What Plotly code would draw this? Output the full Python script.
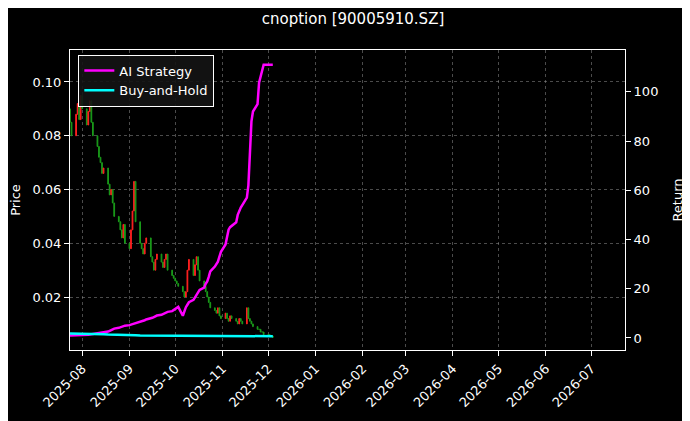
import pandas as pd
import plotly.graph_objects as go

dates = pd.bdate_range("2025-07-24", "2025-12-10")

closes = [0.085, 0.080,
 0.088,0.092,0.086,0.095,0.090,0.084,0.089,0.093,0.085,0.080,0.076,0.072,0.070,0.066,0.068,0.062,0.058,0.060,0.055,0.050,0.048,
 0.045,0.042,0.047,0.040,0.038,0.045,0.052,0.063,0.048,0.040,0.038,0.036,0.040,0.042,0.035,0.033,0.030,0.034,0.036,0.033,0.031,0.034,
 0.036,0.030,0.028,0.027,0.026,0.025,0.024,0.022,0.020,0.022,0.030,0.034,0.028,0.032,0.035,0.030,0.026,0.024,0.022,0.020,0.018,0.016,0.015,
 0.014,0.016,0.013,0.012,0.014,0.012,0.011,0.013,0.012,0.011,0.010,0.012,0.011,0.010,0.016,0.012,0.011,0.010,0.009,0.008,
 0.008,0.007,0.007,0.006,0.006,0.0055,0.0055,0.005]
first_open = 0.090

ai_strategy = [1,1,
 1,1,1.1,1.1,1.2,1.2,1.3,1.4,1.5,1.6,1.7,1.9,2.0,2.2,2.4,2.6,2.9,3.2,3.5,3.8,4.1,
 4.4,4.6,4.8,5.0,5.2,5.4,5.6,5.8,6.0,6.3,6.6,6.9,7.2,7.5,7.8,8.2,8.5,8.8,9.1,9.4,9.7,10.0,
 10.3,10.6,10.9,11.3,11.7,12.1,12.6,9.0,11,12.5,13.5,14.5,15.5,16.7,17.5,18.5,19.5,20.5,22,23,24.8,27,29,
 30,31,33,35,38,41,44,45,45.5,47,50,52,53,54,57,62,75,88,92,95,
 103.7,106,109,111,111,111,111,111]

buy_hold = [1.8,1.8,
 1.8,1.8,1.8,1.8,1.8,1.8,1.8,1.7,1.7,1.7,1.6,1.6,1.5,1.5,1.5,1.4,1.4,1.3,1.3,1.2,1.2,
 1.2,1.1,1.1,1.1,1.1,1.1,1.1,1.2,1.1,1.0,1.0,1.0,1.0,1.0,1.0,0.9,0.9,0.9,0.9,0.9,0.9,0.9,
 0.9,0.9,0.8,0.8,0.8,0.8,0.8,0.8,0.8,0.8,0.9,0.9,0.9,0.9,1.0,0.9,0.9,0.8,0.8,0.8,0.8,0.8,0.8,
 0.8,0.8,0.7,0.7,0.7,0.7,0.7,0.7,0.7,0.7,0.7,0.7,0.7,0.7,0.7,0.7,0.7,0.7,0.7,0.7,
 0.7,0.7,0.7,0.7,0.7,0.7,0.7,0.7]

opens = [first_open] + closes[:-1]
highs = [max(o, c) for o, c in zip(opens, closes)]
lows = [min(o, c) for o, c in zip(opens, closes)]

fig = go.Figure()
fig.add_trace(go.Candlestick(x=dates, open=opens, high=highs, low=lows, close=closes,
    increasing=dict(line=dict(color="#ff2020", width=1), fillcolor="#ff2020"),
    decreasing=dict(line=dict(color="#1a9a1a", width=1), fillcolor="#1a9a1a"),
    whiskerwidth=0, showlegend=False, name="Price"))
fig.add_trace(go.Scatter(x=dates, y=ai_strategy, mode="lines", name="AI Strategy",
    line=dict(color="#ff00ff", width=2.5), yaxis="y2"))
fig.add_trace(go.Scatter(x=dates, y=buy_hold, mode="lines", name="Buy-and-Hold",
    line=dict(color="#00ffff", width=2.5), yaxis="y2"))

grid = dict(showgrid=True, gridcolor="rgba(150,150,150,0.5)", griddash="dot", gridwidth=0.6, zeroline=False)
fig.update_layout(
    width=690, height=421, paper_bgcolor="black", plot_bgcolor="black",
    font=dict(family="DejaVu Sans", color="white", size=13),
    title=dict(text="cnoption [90005910.SZ]", x=0.5, xanchor="center", y=0.975, yanchor="middle", font=dict(size=15)),
    margin=dict(l=62, r=73, t=42, b=79),
    xaxis=dict(range=["2025-07-24", "2026-07-23"], type="date", dtick="M1", tickformat="%Y-%m",
               tickangle=-45, rangeslider=dict(visible=False), showline=True, linecolor="white",
               mirror=True, ticks="outside", tickcolor="white", automargin=False, **grid),
    yaxis=dict(title=dict(text="Price", font=dict(size=13)), range=[0.0003, 0.1119], tickvals=[0.02,0.04,0.06,0.08,0.10],
               tickformat=".2f", showline=True, linecolor="white", mirror=True, ticks="outside", tickcolor="white",
               automargin=False, **grid),
    yaxis2=dict(title=dict(text="Return", font=dict(size=13)), overlaying="y", side="right", range=[-4.9, 117],
                tickvals=[0,20,40,60,80,100], showgrid=False, zeroline=False, showline=True, linecolor="white",
                ticks="outside", tickcolor="white", automargin=False),
    legend=dict(x=0.015, y=0.985, xanchor="left", yanchor="top", bgcolor="rgba(20,20,20,0.9)",
                bordercolor="white", borderwidth=1, font=dict(size=13)),
)
fig.write_html("out.html")
